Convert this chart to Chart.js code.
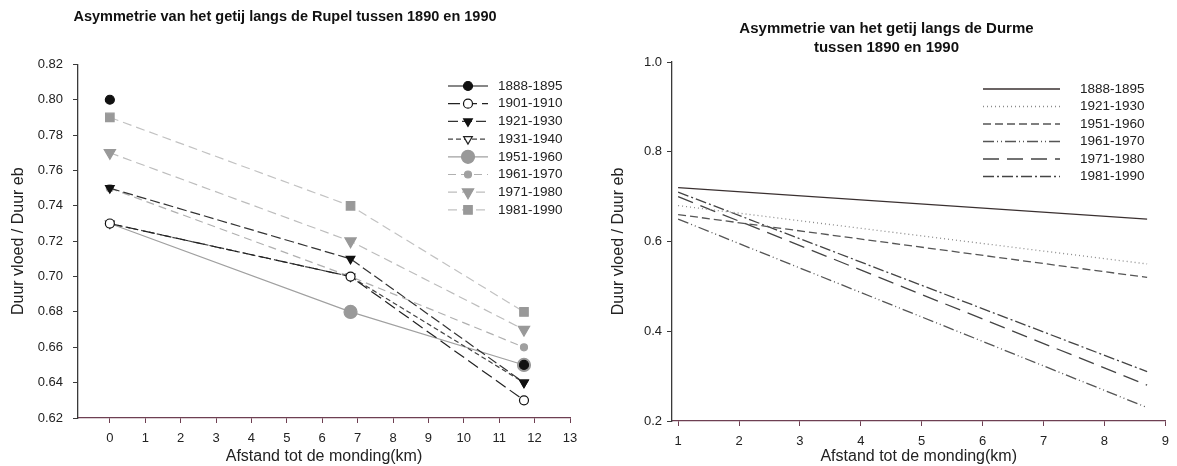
<!DOCTYPE html>
<html>
<head>
<meta charset="utf-8">
<script src="https://cdn.jsdelivr.net/npm/chart.js@4.4.0/dist/chart.umd.min.js"></script>
<style>
    body {margin: 0; background: #fff; width: 1177px; height: 466px; overflow: hidden; position: relative;}
    #rupel {position: absolute; left: 0; top: 0;}
    #durme {position: absolute; left: 600px; top: 0;}
</style>
</head>
<body>
<canvas id="rupel" width="600" height="466"></canvas>
<canvas id="durme" width="577" height="466"></canvas>
<script>
// Rupel: afstand tot de monding (km) en duur vloed / duur eb
var rupelKm = [0, 6.8, 11.7]
var rupelLabels = ['1888-1895', '1901-1910', '1921-1930', '1931-1940', '1951-1960', '1961-1970', '1971-1980', '1981-1990']
var r1888 = [0.80, null, 0.65]
var r1901 = [0.73, 0.70, 0.63]
var r1921 = [0.75, 0.71, 0.64]
var r1931 = [0.73, 0.70, 0.64]
var r1951 = [0.73, 0.68, 0.65]
var r1961 = [0.75, 0.70, 0.66]
var r1971 = [0.77, 0.72, 0.67]
var r1981 = [0.79, 0.74, 0.68]
var rupelXTicks = [0, 1, 2, 3, 4, 5, 6, 7, 8, 9, 10, 11, 12, 13]
var rupelYTicks = [0.62, 0.64, 0.66, 0.68, 0.70, 0.72, 0.74, 0.76, 0.78, 0.80, 0.82]

// Durme
var durmeKm = [1, 8.7]
var durmeLabels = ['1888-1895', '1921-1930', '1951-1960', '1961-1970', '1971-1980', '1981-1990']
var d1888 = [0.72, 0.65]
var d1921 = [0.68, 0.55]
var d1951 = [0.66, 0.52]
var d1961 = [0.65, 0.23]
var d1971 = [0.70, 0.28]
var d1981 = [0.71, 0.31]
var durmeXTicks = [1, 2, 3, 4, 5, 6, 7, 8, 9]
var durmeYTicks = [0.2, 0.4, 0.6, 0.8, 1.0]

var font = "'Liberation Sans', Arial, sans-serif"
var axisColor = '#3a3a3a'
var baseColor = '#6e3f52'

function pts(xs, ys) {
    return xs.map((x, i) => ({x: x, y: ys[i]}))
}

// legende binnen het plotgebied
var inLegend = {
    id: 'inLegend',
    afterDraw: (chart, args, opts) => {
        var ctx = chart.ctx
        ctx.save()
        chart.data.datasets.forEach((ds, i) => {
            var y = opts.y + i * opts.step
            ctx.strokeStyle = ds.borderColor
            ctx.lineWidth = ds.borderWidth
            ctx.setLineDash(ds.borderDash || [])
            ctx.beginPath()
            ctx.moveTo(opts.x, y)
            ctx.lineTo(opts.x + opts.len, y)
            ctx.stroke()
            ctx.setLineDash([])
            var r = Array.isArray(ds.pointRadius) ? ds.pointRadius[ds.pointRadius.length - 1] : ds.pointRadius
            if (r) {
                ctx.fillStyle = ds.pointBackgroundColor
                ctx.strokeStyle = ds.pointBorderColor
                ctx.lineWidth = ds.pointBorderWidth
                Chart.helpers.drawPoint(ctx, {
                    pointStyle: ds.pointStyle,
                    rotation: ds.pointRotation || 0,
                    radius: r,
                    borderWidth: ds.pointBorderWidth
                }, opts.x + opts.len / 2, y)
            }
            ctx.fillStyle = '#222'
            ctx.font = opts.font
            ctx.textBaseline = 'middle'
            ctx.textAlign = 'left'
            ctx.fillText(ds.label, opts.x + opts.len + opts.gap, y)
        })
        ctx.restore()
    }
}

function rupelSet(i, ys, opt) {
    return Object.assign({
        label: rupelLabels[i],
        data: pts(rupelKm, ys),
        borderWidth: 1.2,
        pointBorderWidth: 1.2,
        spanGaps: false
    }, opt)
}

var rupelSets = [
    rupelSet(0, r1888, {borderColor: '#111', pointBackgroundColor: '#111', pointBorderColor: '#111', pointStyle: 'circle', pointRadius: 4.5}),
    rupelSet(1, r1901, {borderColor: '#222', borderDash: [12, 5], pointBackgroundColor: '#fff', pointBorderColor: '#111', pointStyle: 'circle', pointRadius: 4.5}),
    rupelSet(2, r1921, {borderColor: '#333', borderDash: [10, 4], pointBackgroundColor: '#111', pointBorderColor: '#111', pointStyle: 'triangle', pointRotation: 180, pointRadius: 5}),
    rupelSet(3, r1931, {borderColor: '#444', borderDash: [5, 3], pointBackgroundColor: '#fff', pointBorderColor: '#222', pointStyle: 'triangle', pointRotation: 180, pointRadius: 5}),
    rupelSet(4, r1951, {borderColor: '#a0a0a0', pointBackgroundColor: '#999', pointBorderColor: '#999', pointStyle: 'circle', pointRadius: [0, 6.5, 6.5]}),
    rupelSet(5, r1961, {borderColor: '#b0b0b0', borderDash: [8, 5], pointBackgroundColor: '#a0a0a0', pointBorderColor: '#a0a0a0', pointStyle: 'circle', pointRadius: 3.5}),
    rupelSet(6, r1971, {borderColor: '#bdbdbd', borderDash: [9, 5], pointBackgroundColor: '#999', pointBorderColor: '#999', pointStyle: 'triangle', pointRotation: 180, pointRadius: 6.5}),
    rupelSet(7, r1981, {borderColor: '#c2c2c2', borderDash: [9, 5], pointBackgroundColor: '#999', pointBorderColor: '#999', pointStyle: 'rect', pointRadius: 6})
]

function durmeSet(i, ys, color, dash) {
    return {
        label: durmeLabels[i],
        data: pts(durmeKm, ys),
        borderColor: color,
        borderDash: dash,
        borderWidth: 1.3,
        pointRadius: 0
    }
}

var durmeSets = [
    durmeSet(0, d1888, '#3a3030', []),
    durmeSet(1, d1921, '#8a8a8a', [1, 3]),
    durmeSet(2, d1951, '#555', [8, 4]),
    durmeSet(3, d1961, '#555', [11, 3, 1, 3, 1, 3]),
    durmeSet(4, d1971, '#444', [16, 8]),
    durmeSet(5, d1981, '#444', [11, 3, 2, 3])
]

function axis(min, max, ticks, title, color, fmt, extra) {
    return Object.assign({
        type: 'linear',
        min: min,
        max: max,
        afterBuildTicks: (s) => { s.ticks = ticks.map(v => ({value: v})) },
        border: {display: true, color: color, width: 1.3},
        grid: {drawOnChartArea: false, drawTicks: true, tickLength: 5, color: color},
        ticks: {color: '#222', font: {family: font, size: 13}, padding: 8, maxRotation: 0, autoSkip: false, callback: fmt},
        title: {display: true, text: title, color: '#222', font: {family: font, size: 16}, padding: {top: 0, bottom: 0}}
    }, extra)
}

Chart.defaults.animation = false

var rupelChart = new Chart(document.getElementById('rupel'), {
    type: 'line',
    data: {datasets: rupelSets},
    plugins: [inLegend],
    options: {
        responsive: false,
        devicePixelRatio: 1,
        layout: {padding: {left: 0, right: 30, top: 0, bottom: 0}},
        plugins: {
            legend: {display: false},
            tooltip: {enabled: false},
            title: {
                display: true,
                text: 'Asymmetrie van het getij langs de Rupel tussen 1890 en 1990',
                color: '#111',
                font: {family: font, size: 14.5, weight: 'bold'},
                padding: {top: 8, bottom: 39}
            },
            inLegend: {x: 448, y: 86, step: 17.7, len: 40, gap: 10, font: '13.5px ' + font}
        },
        scales: {
            x: axis(-0.9, 13, rupelXTicks, 'Afstand tot de monding(km)', baseColor, v => v, {
                afterFit: (s) => { s.height = 48 }
            }),
            y: axis(0.62, 0.82, rupelYTicks, 'Duur vloed / Duur eb', axisColor, v => v.toFixed(2), {
                afterFit: (s) => { s.width = 78 },
                ticks: {color: '#222', font: {family: font, size: 13}, padding: 10, callback: v => v.toFixed(2)},
                title: {display: true, text: 'Duur vloed / Duur eb', color: '#222', font: {family: font, size: 16}, padding: {top: 9, bottom: 0}}
            })
        }
    }
})

var durmeChart = new Chart(document.getElementById('durme'), {
    type: 'line',
    data: {datasets: durmeSets},
    plugins: [inLegend],
    options: {
        responsive: false,
        devicePixelRatio: 1,
        layout: {padding: {left: 0, right: 4, top: 0, bottom: 0}},
        plugins: {
            legend: {display: false},
            tooltip: {enabled: false},
            title: {
                display: true,
                text: ['Asymmetrie van het getij langs de Durme', 'tussen 1890 en 1990'],
                color: '#111',
                font: {family: font, size: 15, weight: 'bold', lineHeight: 1.3},
                padding: {top: 19, bottom: 4}
            },
            inLegend: {x: 383, y: 89, step: 17.5, len: 77, gap: 20, font: '13.5px ' + font}
        },
        scales: {
            x: axis(0.9, 9, durmeXTicks, 'Afstand tot de monding(km)', baseColor, v => v, {
                afterFit: (s) => { s.height = 45 }
            }),
            y: axis(0.2, 1.0, durmeYTicks, 'Duur vloed / Duur eb', axisColor, v => v.toFixed(1), {
                afterFit: (s) => { s.width = 72 },
                ticks: {color: '#222', font: {family: font, size: 13}, padding: 5, callback: v => v.toFixed(1)},
                title: {display: true, text: 'Duur vloed / Duur eb', color: '#222', font: {family: font, size: 16}, padding: {top: 9, bottom: 0}}
            })
        }
    }
})
</script>
</body>
</html>
